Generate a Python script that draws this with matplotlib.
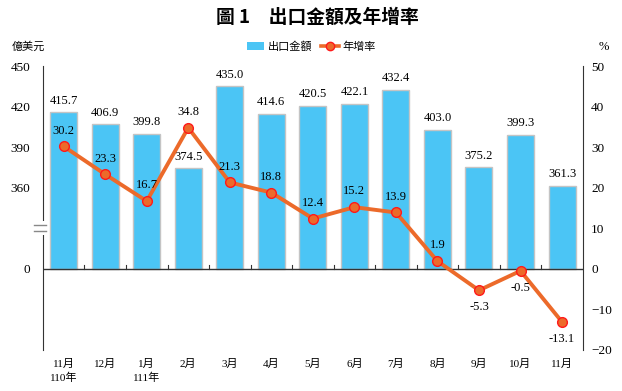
import numpy as np
import matplotlib
matplotlib.use("Agg")
import matplotlib.pyplot as plt
from matplotlib.lines import Line2D
from matplotlib.patches import Patch, Rectangle
import matplotlib.transforms as mtransforms

plt.rcParams['font.family'] = ['Liberation Serif', 'Noto Sans CJK TC']

months = ["11月\n110年", "12月", "1月\n111年", "2月", "3月", "4月", "5月",
          "6月", "7月", "8月", "9月", "10月", "11月"]
exports = [415.7, 406.9, 399.8, 374.5, 435.0, 414.6, 420.5, 422.1, 432.4,
           403.0, 375.2, 399.3, 361.3]
growth = [30.2, 23.3, 16.7, 34.8, 21.3, 18.8, 12.4, 15.2, 13.9, 1.9, -5.3, -0.5, -13.1]

left_ticks = [0, 360, 390, 420, 450]
right_ticks = list(range(-20, 51, 10))

BAR_COLOR = "#4BC5F5"
LINE_COLOR = "#EC6A2A"
BREAK_OFFSET = 300   # left axis is broken between 0 and 360

fig = plt.figure(figsize=(6.22, 3.91), dpi=100)
ax = fig.add_axes([0.069, 0.105, 0.868, 0.726])
ax2 = ax.twinx()

x = np.arange(len(months))
heights = [v - BREAK_OFFSET for v in exports]
ax.bar(x, heights, width=0.65, color=BAR_COLOR, edgecolor="#C4C4C4", linewidth=1.0, zorder=2)
ax.set_xlim(-0.5, len(months) - 0.5)
ax.set_ylim(-60, 150)
ax.set_yticks([0 if t == 0 else t - BREAK_OFFSET for t in left_ticks])
ax.set_yticklabels([str(t) for t in left_ticks])
ax.tick_params(axis="y", length=0, pad=9, labelsize=9.5)

for xi, v, h in zip(x, exports, heights):
    ax.annotate(f"{v:.1f}", (xi, h), xytext=(0, 4), textcoords="offset points",
                ha="center", va="bottom", fontsize=9)

ax2.plot(x, growth, color=LINE_COLOR, linewidth=2.8, marker="o", markersize=7,
         markerfacecolor=LINE_COLOR, markeredgecolor="#FF1A1A", markeredgewidth=1.0, zorder=3)
ax2.set_ylim(-20, 50)
ax2.set_yticks(right_ticks)
ax2.tick_params(axis="y", length=0, pad=6, labelsize=9.5)

for xi, g in zip(x, growth):
    if g < 0:
        ax2.annotate(f"{g:.1f}", (xi, g), xytext=(0, -8), textcoords="offset points",
                     ha="center", va="top", fontsize=9)
    else:
        ax2.annotate(f"{g:.1f}", (xi, g), xytext=(0, 7), textcoords="offset points",
                     ha="center", va="bottom", fontsize=9)

# spines
for a in (ax, ax2):
    a.spines["top"].set_visible(False)
    a.spines["bottom"].set_visible(False)
ax.spines["right"].set_visible(False)
ax.spines["left"].set_color("#333333")
ax2.spines["right"].set_color("#333333")
ax2.spines["left"].set_visible(False)
ax.axhline(0, color="#333333", linewidth=1.0, zorder=2.5)

# small boundary ticks on the zero line
ax.set_xticks([])
for b in np.arange(0.5, len(months) - 1, 1.0):
    ax.plot([b, b], [0, 2.5], color="#333333", linewidth=0.8, zorder=2.5)

# month labels under the plot
trans = mtransforms.blended_transform_factory(ax.transData, ax.transAxes)
for xi, lab in zip(x, months):
    ax.text(xi, -0.03, lab, transform=trans, ha="center", va="top",
            fontsize=8, linespacing=1.45)

# axis break marker (halfway between 0 and 360)
yb = (30 + 60) / 210
ax.add_patch(Rectangle((-0.012, yb - 0.025), 0.024, 0.05, transform=ax.transAxes,
                       facecolor="white", edgecolor="none", clip_on=False, zorder=5))
for yy in (yb - 0.01, yb + 0.01):
    ax.plot([-0.016, 0.006], [yy, yy], transform=ax.transAxes, color="#888888",
            linewidth=1.0, clip_on=False, zorder=6)

# titles and unit labels
fig.text(0.51, 0.955, "圖 1　出口金額及年增率", ha="center", va="center",
         fontsize=13.5, fontweight="bold", family=["Noto Sans CJK TC"])
fig.text(0.018, 0.88, "億美元", ha="left", va="center", fontsize=8)
fig.text(0.962, 0.88, "%", ha="left", va="center", fontsize=9)

handles = [Patch(facecolor=BAR_COLOR, edgecolor="none", label="出口金額"),
           Line2D([0], [0], color=LINE_COLOR, linewidth=2.6, marker="o", markersize=6,
                  markerfacecolor=LINE_COLOR, markeredgecolor="#FF1A1A", label="年增率")]
fig.legend(handles=handles, loc="center", bbox_to_anchor=(0.5, 0.88), ncol=2,
           frameon=False, fontsize=8, handlelength=1.6, handletextpad=0.3,
           columnspacing=0.8)

fig.savefig("out.png", dpi=100)
